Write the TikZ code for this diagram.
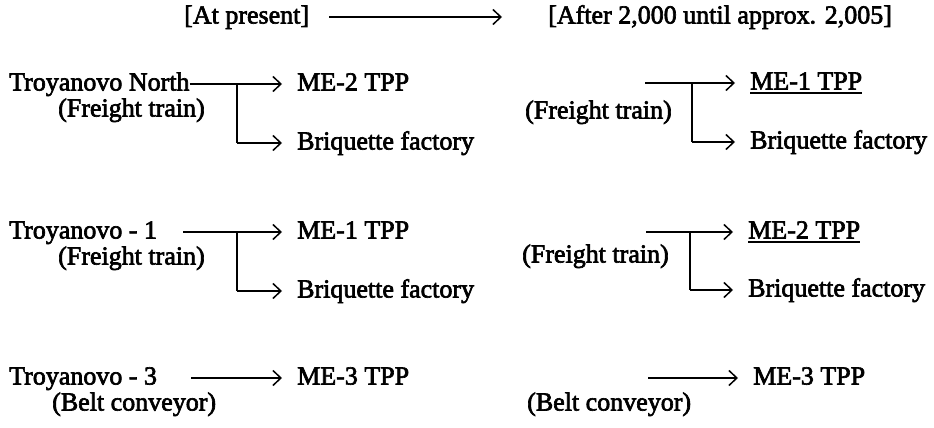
\documentclass[tikz,border=0pt]{standalone}
\usepackage{fontspec}
\setmainfont{Liberation Serif}
\newfontfamily\scanfont{Liberation Serif}[FakeBold=2.5]
\usetikzlibrary{arrows.meta}
\begin{document}
\begin{tikzpicture}[x=1pt,y=-1pt,
  lbl/.style={anchor=west,inner sep=0pt,text height=18pt,text depth=5pt,font=\scanfont\fontsize{26}{30}\selectfont},
  conn/.style={line width=1.5pt},
  arr/.style={conn,-{Straight Barb[length=8pt,width=15pt,line width=1.5pt]}},
  stem/.style={line width=2.4pt},
  uline/.style={line width=1.8pt}]
\useasboundingbox (0,0) rectangle (934,428);
% header
\node[lbl] (now) at (184,17) {[At present]};
\node[lbl] (after) at (548,17) {[After 2,000 until approx. 2,005]};
\draw[arr] ([xshift=20pt]now.east) -- ([xshift=-46pt]after.west);
% left row 1
\node[lbl] (tn) at (9,84) {Troyanovo North};
\node[lbl] (tnft) at (58,110) {(Freight train)};
\node[lbl] (me2a) at (297,84) {ME-2 TPP};
\node[lbl] (bfa) at (297,143) {Briquette factory};
\coordinate (ja) at (237,84);
\draw[arr] (tn.east) -- ([xshift=-15pt]me2a.west);
\draw[stem] (ja) -- (ja |- bfa.west);
\draw[arr] (ja |- bfa.west) -- ([xshift=-15pt]bfa.west);
% left row 2
\node[lbl] (t1) at (9,232) {Troyanovo - 1};
\node[lbl] (t1ft) at (58,258) {(Freight train)};
\node[lbl] (me1a) at (297,232) {ME-1 TPP};
\node[lbl] (bfa2) at (297,291) {Briquette factory};
\coordinate (ja2) at (237,232);
\draw[arr] ([xshift=26pt]t1.east) -- ([xshift=-15pt]me1a.west);
\draw[stem] (ja2) -- (ja2 |- bfa2.west);
\draw[arr] (ja2 |- bfa2.west) -- ([xshift=-15pt]bfa2.west);
% left row 3
\node[lbl] (t3) at (9,378) {Troyanovo - 3};
\node[lbl] (t3bc) at (52,404) {(Belt conveyor)};
\node[lbl] (me3a) at (297,378) {ME-3 TPP};
\draw[arr] ([xshift=34pt]t3.east) -- ([xshift=-15pt]me3a.west);
% right row 1
\node[lbl] (rft1) at (525,112) {(Freight train)};
\node[lbl] (me1b) at (750,83) {ME-1 TPP};
\draw[uline] ([yshift=2pt]me1b.south west) -- ([yshift=2pt]me1b.south east);
\node[lbl] (bfb) at (750,142) {Briquette factory};
\coordinate (rs1) at (645,83);
\coordinate (rj1) at (692,83);
\draw[arr] (rs1) -- ([xshift=-15pt]me1b.west);
\draw[stem] (rj1) -- (rj1 |- bfb.west);
\draw[arr] (rj1 |- bfb.west) -- ([xshift=-15pt]bfb.west);
% right row 2
\node[lbl] (rft2) at (522,256) {(Freight train)};
\node[lbl] (me2b) at (748,232) {ME-2 TPP};
\draw[uline] ([yshift=2pt]me2b.south west) -- ([yshift=2pt]me2b.south east);
\node[lbl] (bfb2) at (748,290) {Briquette factory};
\coordinate (rs2) at (646,232);
\coordinate (rj2) at (690,232);
\draw[arr] (rs2) -- ([xshift=-15pt]me2b.west);
\draw[stem] (rj2) -- (rj2 |- bfb2.west);
\draw[arr] (rj2 |- bfb2.west) -- ([xshift=-15pt]bfb2.west);
% right row 3
\node[lbl] (rbc) at (527,404) {(Belt conveyor)};
\node[lbl] (me3b) at (753,378) {ME-3 TPP};
\coordinate (rs3) at (648,378);
\draw[arr] (rs3) -- ([xshift=-15pt]me3b.west);
\end{tikzpicture}
\end{document}
